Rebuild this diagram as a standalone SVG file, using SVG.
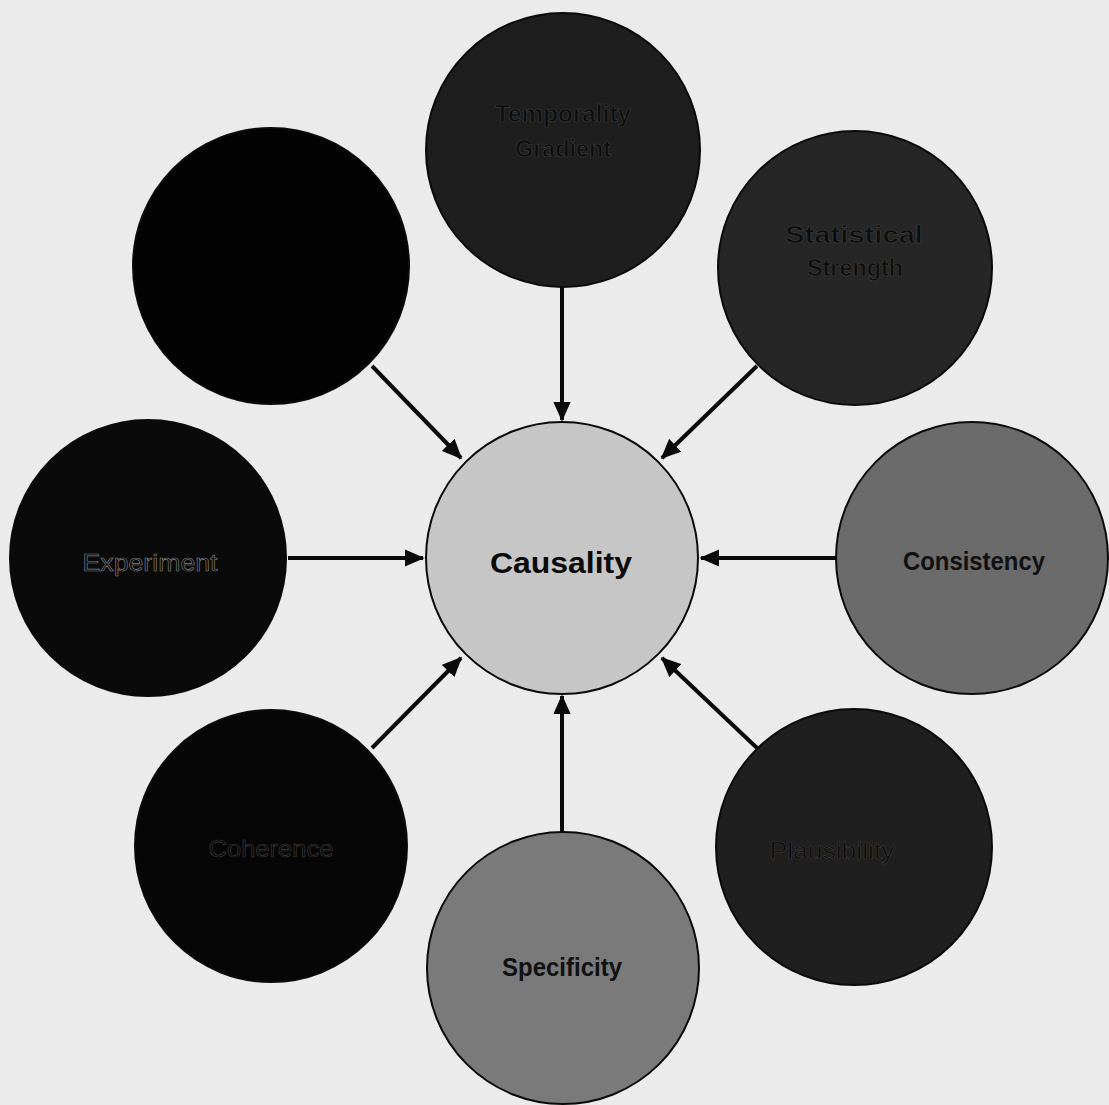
<svg xmlns="http://www.w3.org/2000/svg" width="1109" height="1105" viewBox="0 0 1109 1105">
<defs>
<marker id="ah" markerWidth="5" markerHeight="4.4" refX="4.6" refY="2.2" orient="auto" markerUnits="strokeWidth">
<path d="M0,0 L5,2.2 L0,4.4 Z" fill="#0a0a0a"/>
</marker>
</defs>
<style>
.node{stroke:#0a0a0a;stroke-width:2}
.conn{stroke:#0a0a0a;stroke-width:4;fill:none;marker-end:url(#ah)}
.lbl{font-family:"Liberation Sans",Arial,sans-serif;font-weight:bold;text-anchor:middle}
.dark{fill:#0d0d0d;stroke:#3a3a3a;stroke-width:0.7}
.ghost{fill:#0a0a0a;stroke:#808080;stroke-width:0.6;font-weight:normal}
.faint{fill:#080808;stroke:#3c3c3c;stroke-width:0.6;font-weight:normal}
</style>
<rect width="1109" height="1105" fill="#ebebeb"/>
<g id="connectors">
<line class="conn" x1="562" y1="285" x2="562" y2="420"/>
<line class="conn" x1="372" y1="366" x2="461" y2="458"/>
<line class="conn" x1="757" y1="366" x2="662" y2="458"/>
<line class="conn" x1="288" y1="558" x2="423" y2="558"/>
<line class="conn" x1="836" y1="558" x2="701" y2="558"/>
<line class="conn" x1="372" y1="748" x2="461" y2="658"/>
<line class="conn" x1="757" y1="748" x2="662" y2="658"/>
<line class="conn" x1="562" y1="832" x2="562" y2="696"/>
</g>
<g id="node-temporality">
<circle class="node" cx="563" cy="150" r="137" fill="#1e1e1e"/>
<text class="lbl dark" x="563" y="122" font-size="24" textLength="136" lengthAdjust="spacingAndGlyphs">Temporality</text>
<text class="lbl dark" x="563" y="157" font-size="24" textLength="96" lengthAdjust="spacingAndGlyphs">Gradient</text>
</g>
<g id="node-topleft">
<circle class="node" cx="271" cy="266" r="138" fill="#030303"/>
</g>
<g id="node-statistical">
<circle class="node" cx="855" cy="268" r="137" fill="#262626"/>
<text class="lbl dark" x="854" y="243" font-size="24" textLength="138" lengthAdjust="spacingAndGlyphs">Statistical</text>
<text class="lbl dark" x="855" y="276" font-size="24" textLength="96" lengthAdjust="spacingAndGlyphs">Strength</text>
</g>
<g id="node-experiment">
<circle class="node" cx="148" cy="558" r="138" fill="#0a0a0a"/>
<text class="lbl ghost" x="150" y="571" font-size="24" textLength="135" lengthAdjust="spacingAndGlyphs">Experiment</text>
</g>
<g id="node-causality">
<circle class="node" cx="562" cy="558" r="136" fill="#c6c6c6"/>
<text class="lbl" x="561" y="573" font-size="29" fill="#0a0a0a" textLength="142" lengthAdjust="spacingAndGlyphs">Causality</text>
</g>
<g id="node-consistency">
<circle class="node" cx="972" cy="558" r="136" fill="#6b6b6b"/>
<text class="lbl" x="974" y="570" font-size="26" fill="#111" textLength="142" lengthAdjust="spacingAndGlyphs">Consistency</text>
</g>
<g id="node-coherence">
<circle class="node" cx="271" cy="846" r="136" fill="#060606"/>
<text class="lbl faint" x="271" y="857" font-size="24" textLength="125" lengthAdjust="spacingAndGlyphs">Coherence</text>
</g>
<g id="node-specificity">
<circle class="node" cx="563" cy="968" r="136" fill="#7a7a7a"/>
<text class="lbl" x="562" y="976" font-size="26" fill="#111" textLength="120" lengthAdjust="spacingAndGlyphs">Specificity</text>
</g>
<g id="node-plausibility">
<circle class="node" cx="854" cy="847" r="138" fill="#1f1f1f"/>
<text class="lbl faint" x="832" y="859" font-size="24" textLength="125" lengthAdjust="spacingAndGlyphs">Plausibility</text>
</g>
</svg>
